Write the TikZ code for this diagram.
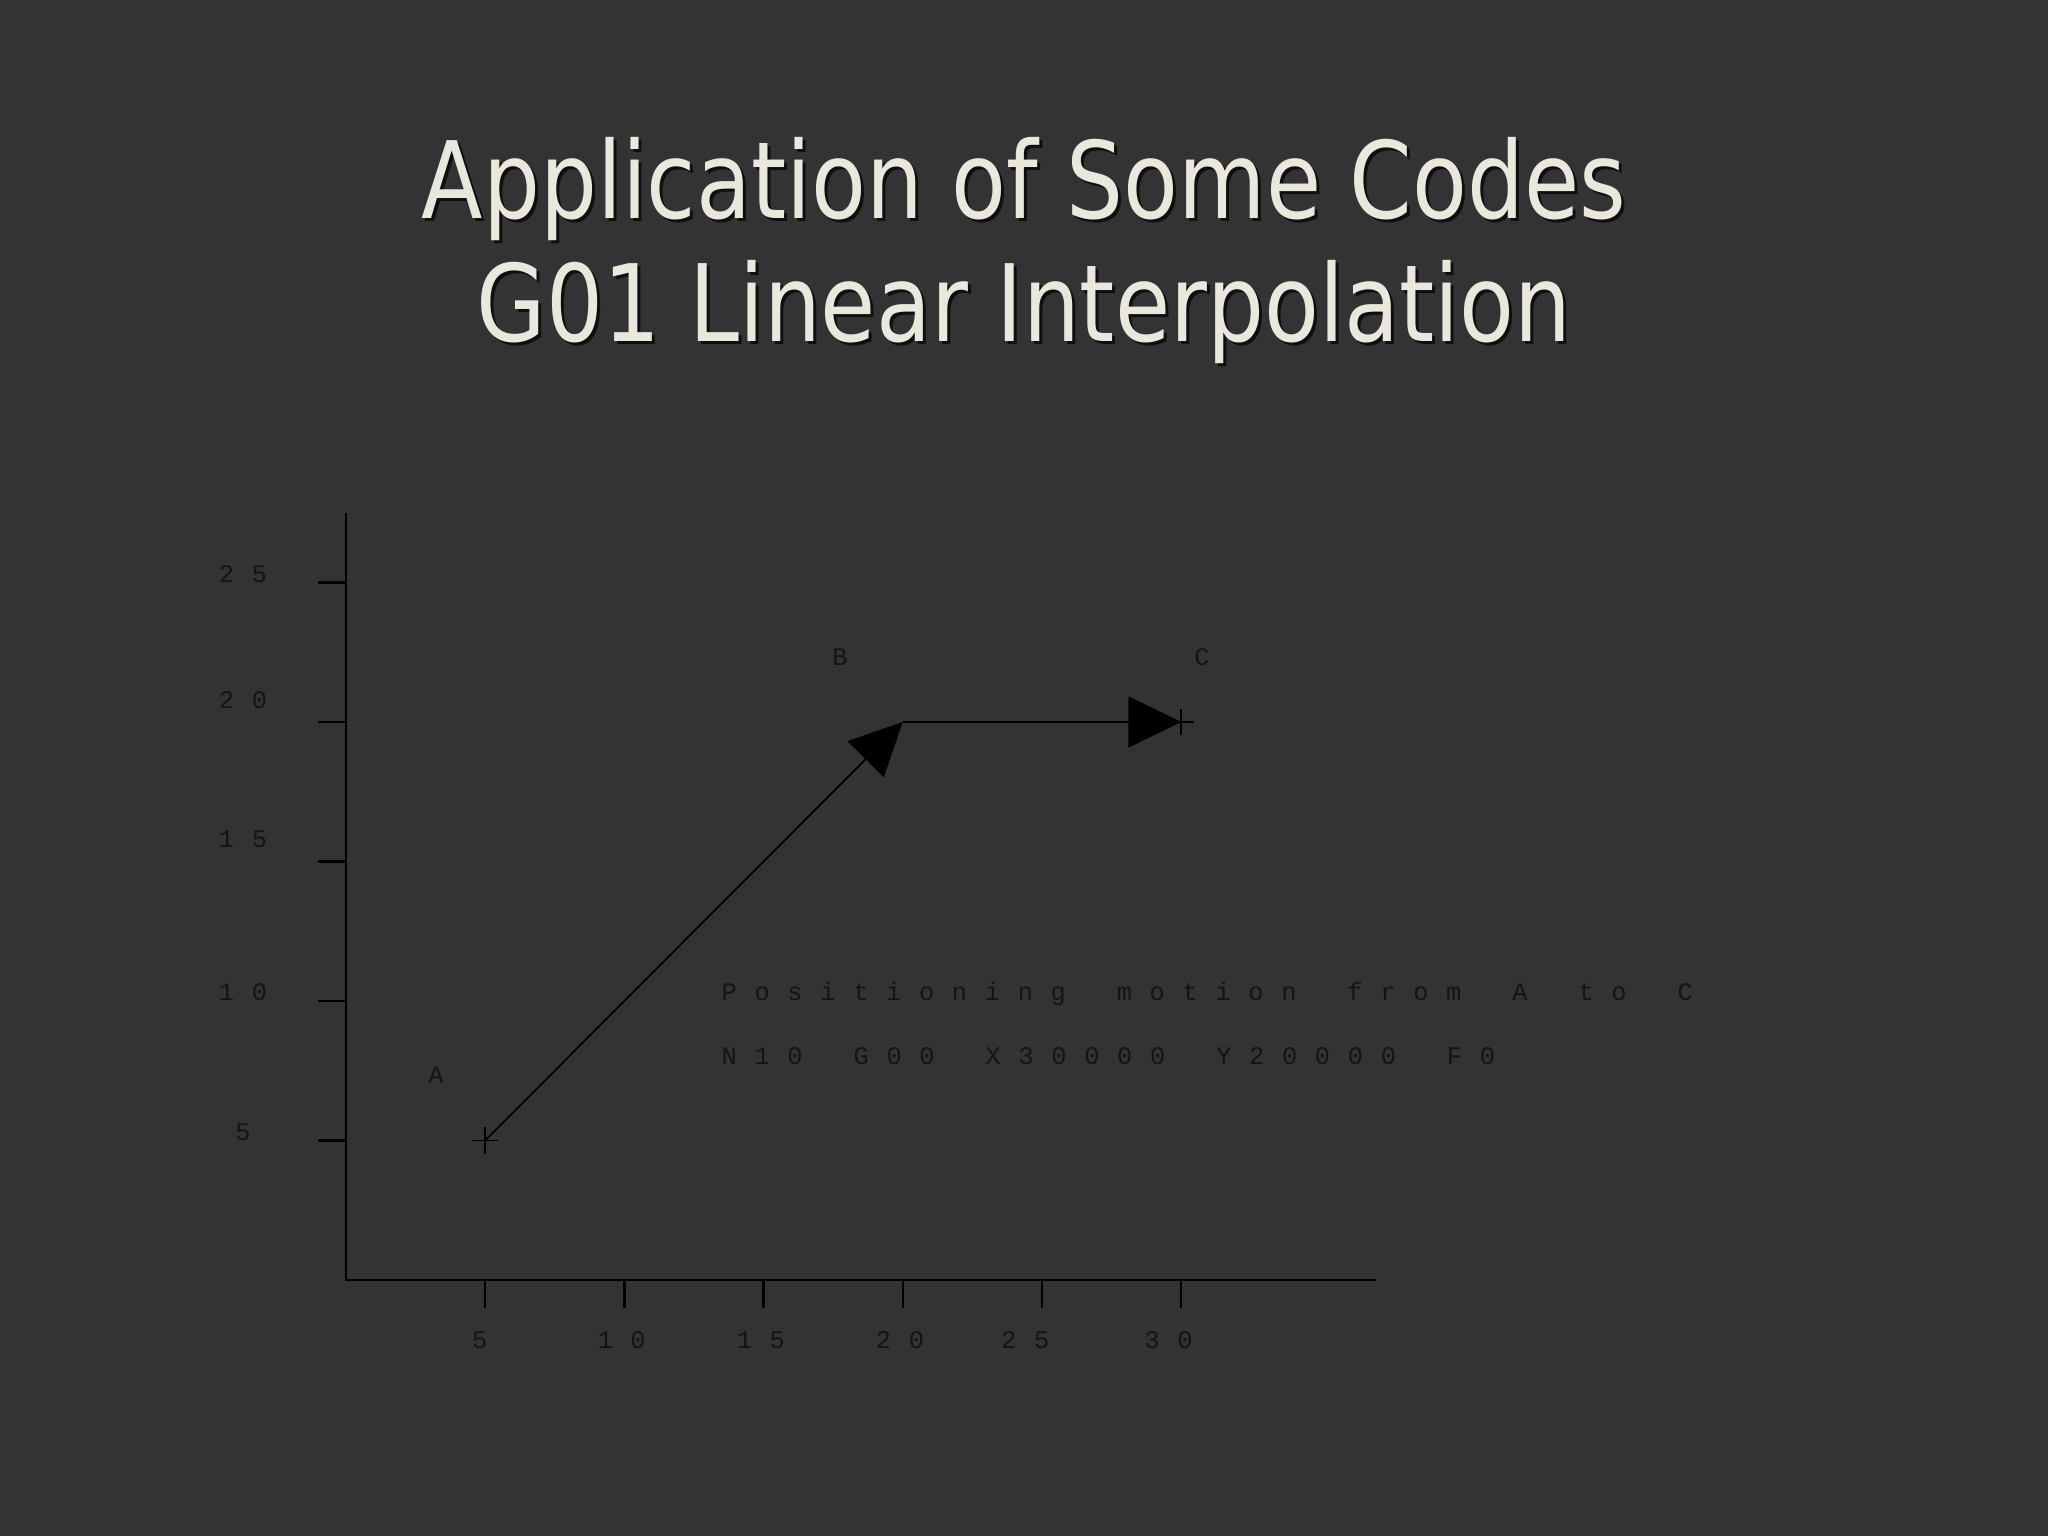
\documentclass[tikz,border=0pt]{standalone}
\usepackage{fontspec}
\usetikzlibrary{arrows.meta, positioning}
\newfontfamily\titlefont[FakeStretch=0.84]{DejaVu Sans}
\newfontfamily\chartfont[LetterSpace=70, WordSpace=1.55]{Liberation Mono}
\definecolor{slide}{RGB}{51,51,51}
\definecolor{titlecol}{RGB}{234,232,221}
\definecolor{ink}{RGB}{20,20,20}

\tikzset{
  title/.style={font=\titlefont\fontsize{30.4}{36}\selectfont, text=titlecol, anchor=base, inner sep=0pt},
  titleshadow/.style={title, text=black, opacity=0.7},
  lbl/.style={font=\chartfont\fontsize{7.2}{9}\selectfont, text=ink, inner sep=0pt, anchor=base},
  axisline/.style={line width=0.7pt, black},
  motion/.style={line width=0.5pt, black},
  head/.style={-{Triangle[length=15pt,width=14.5pt]}},
}

\begin{document}
\begin{tikzpicture}
\fill[slide] (0,0) rectangle (20.48,15.36);
\useasboundingbox (0,0) rectangle (20.48,15.36);
% title, with its shadow
\node[titleshadow] (t1s) at (10.27,13.14) {Application of Some Codes};
\node[title] (t1) at (10.24,13.17) {Application of Some Codes};
\node[titleshadow] (t2s) at (10.27,11.91) {G01 Linear Interpolation};
\node[title] (t2) at (10.24,11.94) {G01 Linear Interpolation};
% chart, in drawing units
\begin{scope}[shift={(3.46,2.56)}, x=0.2784cm, y=0.279cm]
\coordinate (O) at (0,0);
\coordinate (Xend) at (37,0);
\coordinate (Yend) at (0,27.5);
\draw[axisline] (Yend) -- (O) -- (Xend);
\foreach \v/\dx in {5/-0.2,10/-0.1,15/-0.1,20/-0.1,25/-0.6,30/-0.45} {
  \draw[axisline] (\v,0) -- (\v,-1);
  \node[lbl] (x\v) at (\v+\dx,-2.47) {\v};
}
\foreach \v/\h in {5/5,10/10,15/15.5,20/20.5,25/25} {
  \draw[axisline] (0,\v) -- (-1,\v);
  \node[lbl] (y\v) at (-3.7,\h) {\v};
}
\coordinate (A) at (5,5);
\coordinate (B) at (20,20);
\coordinate (C) at (30,20);
\node[lbl] (labA) at (3.23,7.03) {A};
\node[lbl] (labB) at (17.74,22.04) {B};
\node[lbl] (labC) at (30.75,22.04) {C};
\draw[motion, head] (A) -- (B);
\draw[motion, head] (B) -- (C);
\foreach \p in {A,C}
  \draw[motion] (\p) ++(-0.47,0) -- ++(0.94,0) (\p) ++(0,-0.47) -- ++(0,0.94);
\node[lbl, anchor=base west] (line1) at (13.47,10.0) {Positioning motion from A to C};
\node[lbl, anchor=base west] (line2) at (13.47,7.71) {N10 G00 X30000 Y20000 F0};
\end{scope}
\end{tikzpicture}
\end{document}
